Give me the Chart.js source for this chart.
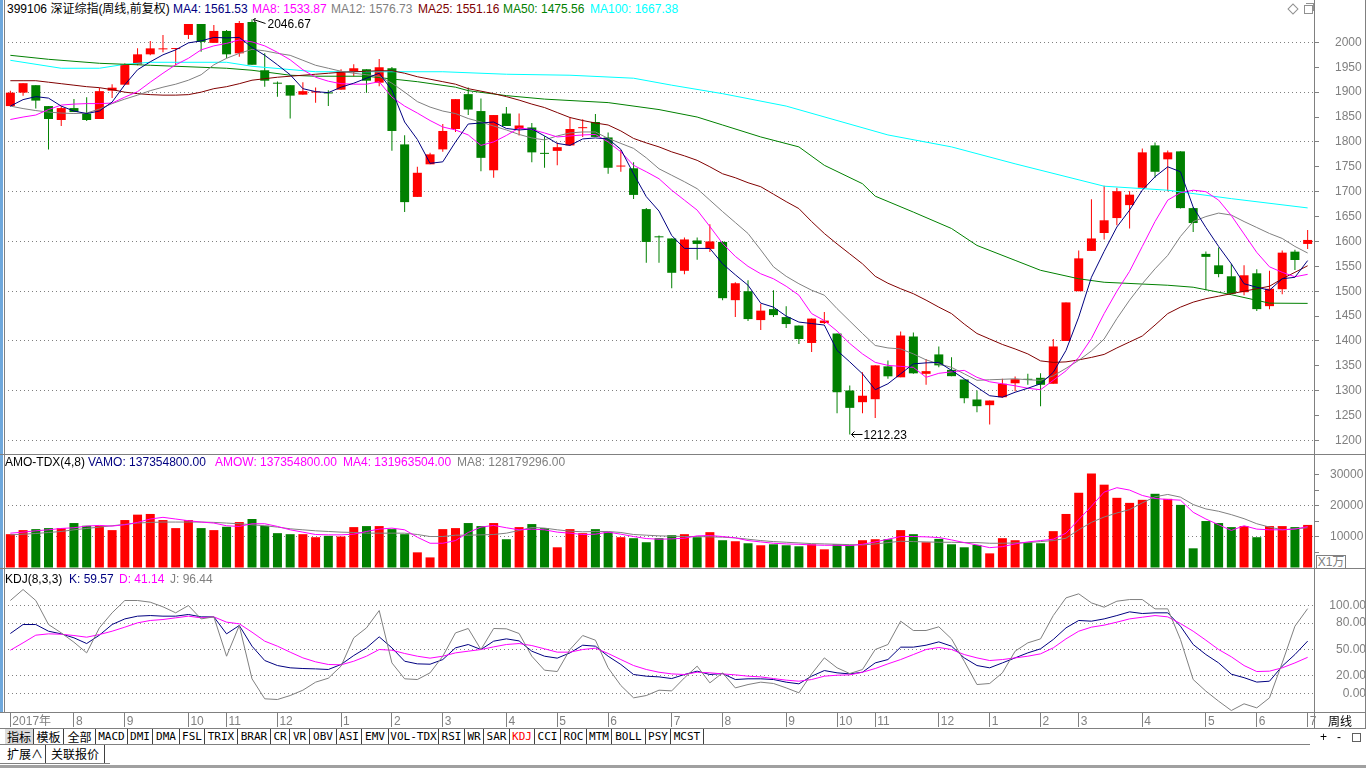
<!DOCTYPE html>
<html>
<head>
<meta charset="utf-8">
<script src="https://cdn.jsdelivr.net/npm/chart.js@4.4.1/dist/chart.umd.min.js"></script>
<style>
  html, body { margin: 0; padding: 0; background: #fff; }
  body { width: 1366px; height: 768px; position: relative; overflow: hidden;
         font-family: "Liberation Sans", "Noto Sans CJK SC", sans-serif; font-size: 12px; }
  canvas { position: absolute; }
  .t { position: absolute; white-space: nowrap; line-height: 14px; font-size: 12px; }
  .hl { position: absolute; left: 0; width: 1366px; height: 1px; background: #808080; }
  .vl { position: absolute; width: 1px; background: #808080; }
  .btn { position: absolute; top: 729px; height: 15px; line-height: 15px; text-align: center;
         border-right: 1px solid #404040; box-sizing: border-box; color: #000;
         font-family: "DejaVu Sans Mono", "Noto Sans CJK SC", monospace; font-size: 11px; }
  .btn.cn { font-family: "Noto Sans CJK SC", sans-serif; font-size: 12px; }
  .row2 { position: absolute; top: 745px; height: 18px; line-height: 18px; text-align: center;
          border-right: 1px solid #404040; box-sizing: border-box;
          font-family: "Noto Sans CJK SC", sans-serif; font-size: 12px; }
</style>
</head>
<body>

<!-- panel chrome -->
<div style="position:absolute;left:0;top:0;width:3px;height:712px;background:#6fa8dc"></div>
<div class="vl" style="left:4px;top:0;height:712px"></div>
<div class="vl" style="left:1314px;top:0;height:728px"></div>
<div class="vl" style="left:1365px;top:0;height:728px"></div>
<div class="hl" style="top:454px"></div>
<div class="hl" style="top:568px"></div>
<div class="hl" style="top:712px"></div>
<div class="hl" style="top:728px"></div>
<div class="hl" style="top:744px;width:1310px"></div>
<div class="hl" style="top:763px;width:110px"></div>
<div style="position:absolute;left:0;top:765px;width:1366px;height:3px;background:#a0a0a0"></div>

<canvas id="price" width="1362" height="435" style="left:4px;top:18px;width:1362px;height:435px"></canvas>
<canvas id="vol" width="1362" height="113" style="left:4px;top:455px;width:1362px;height:113px"></canvas>
<canvas id="kdj" width="1362" height="159" style="left:4px;top:569px;width:1362px;height:159px"></canvas>

<!-- headers -->
<span class="t" style="left:7px;top:2px;color:#000">399106 深证综指(周线,前复权)</span>
<span class="t" style="left:173px;top:2px;color:#000080">MA4: 1561.53</span>
<span class="t" style="left:252px;top:2px;color:#ff00ff">MA8: 1533.87</span>
<span class="t" style="left:331px;top:2px;color:#808080">MA12: 1576.73</span>
<span class="t" style="left:418px;top:2px;color:#800000">MA25: 1551.16</span>
<span class="t" style="left:503px;top:2px;color:#008000">MA50: 1475.56</span>
<span class="t" style="left:590px;top:2px;color:#00ffff">MA100: 1667.38</span>
<div style="position:absolute;left:1289px;top:5px;width:6px;height:6px;border:1px solid #909090;transform:rotate(45deg)"></div>
<div style="position:absolute;left:1304px;top:5px;width:7px;height:7px;border:1px solid #909090"></div>
<div style="position:absolute;left:1306px;top:3px;width:7px;height:7px;border-top:1px solid #909090;border-right:1px solid #909090"></div>

<span class="t" style="left:5px;top:455px;color:#000">AMO-TDX(4,8)</span>
<span class="t" style="left:88px;top:455px;color:#000080">VAMO: 137354800.00</span>
<span class="t" style="left:215px;top:455px;color:#ff00ff">AMOW: 137354800.00</span>
<span class="t" style="left:343px;top:455px;color:#ff00ff">MA4: 131963504.00</span>
<span class="t" style="left:457px;top:455px;color:#808080">MA8: 128179296.00</span>
<div style="position:absolute;left:1316px;top:555px;width:28px;height:12px;border:1px solid #808080;background:#fff;color:#808080;font-size:12px;line-height:12px;text-align:center">X1万</div>

<span class="t" style="left:5px;top:572px;color:#000">KDJ(8,3,3)</span>
<span class="t" style="left:69px;top:572px;color:#000080">K: 59.57</span>
<span class="t" style="left:119px;top:572px;color:#ff00ff">D: 41.14</span>
<span class="t" style="left:170px;top:572px;color:#808080">J: 96.44</span>

<div style="position:absolute;left:1315px;top:713px;width:50px;height:15px;line-height:15px;text-align:center;font-family:'Noto Sans CJK SC',sans-serif;font-size:12px;color:#000">周线</div>

<div id="tabs"></div>
<div class="row2" style="left:5px;width:41px">扩展∧</div>
<div class="row2" style="left:46px;width:59px">关联报价</div>
<span class="t" style="left:1320px;top:730px;color:#000">+</span>
<span class="t" style="left:1337px;top:730px;color:#000">-</span>
<div style="position:absolute;left:1352px;top:733px;width:7px;height:7px;border:1px solid #606060"></div>

<script>
// ---- weekly candles (Jul 2017 - Jul 2019) ----
const opens = [1872,1899,1914,1872,1844,1868,1857,1846,1903,1915,
  1956,1976,1986,1986.6,2015,2037,1999,2023,1978,2041,
  1944,1917.5,1914,1895,1899.4,1899.4,1905,1942,1946,1919,
  1948,1795,1689.5,1755,1785,1826,1896,1862,1743,1857,
  1826,1829,1777.3,1782,1793,1827.6,1840,1809,1750.5,1747,
  1665,1609.6,1606,1541,1602,1585,1599,1482,1500,1442,
  1464,1448,1431,1396,1436,1415,1300.5,1277,1283,1349,
  1327,1409,1334,1373,1342,1322.6,1282.4,1271,1287,1315,
  1324,1326,1314,1400,1500,1581,1617,1647,1673,1708,
  1793,1765,1781,1667,1575,1552,1530,1498,1536,1470,
  1504,1579.5,1595];
const highs = [1903,1918,1914,1872,1872,1886,1890,1909,1916,1958,
  1988,2003,2015,1988,2037,2037,2035,2025,2043,2046.67,
  1978,1921.5,1914,1920,1909.5,1904,1946,1956,1946,1966.5,
  1950.4,1813.5,1750,1778,1836,1886,1909.5,1887,1854,1870,
  1857,1838,1811.5,1799,1849,1845.7,1856,1819,1784,1759,
  1667,1611.7,1606,1608,1608,1634.5,1601,1518,1522,1475,
  1502,1470,1431,1445,1458,1415,1310.5,1337,1351,1361,
  1419,1417,1364,1389,1367.5,1322.6,1300.5,1280.3,1324,1328.6,
  1334,1335,1404,1477.5,1582,1685,1712,1708,1701,1787,
  1799,1783,1781,1669,1580,1588,1555,1552,1544,1541,
  1582,1583.5,1623];
const lows = [1871,1893,1867,1785,1832,1860,1842,1846,1888,1915,
  1954,1974,1980,1954,2007,1981,1999,1968,1971,1955,
  1911,1891,1847,1895,1878.6,1872,1905,1932,1899,1912,
  1782,1659,1689.5,1755,1780,1820,1854,1741,1728,1832,
  1813,1759,1748,1753,1793,1810,1810,1736,1740,1685.5,
  1557,1557,1506,1534,1563,1579,1482,1448,1440,1422,
  1448,1426,1394,1378,1434,1255,1212.23,1255,1245,1324,
  1327,1334,1312,1347,1329,1275,1257,1232,1285.7,1299,
  1312,1269,1314,1400,1500,1581,1604,1632.5,1626,1708,
  1728,1701,1666,1619,1502,1528,1495,1492,1460,1464,
  1494,1542.6,1585];
const closes = [1899,1918,1883,1846,1868,1860,1844,1902,1909,1956,
  1976,1988,1988,1988,2037,2001,2023,1976,2039,1955,
  1923,1917,1893,1902,1901.4,1897.4,1942,1948,1923,1950,
  1822,1679,1738,1775,1822,1886,1865,1768,1854,1832,
  1833,1779,1776,1789.4,1826,1829.6,1810,1748,1752.5,1693.5,
  1599,1608.3,1537,1604,1595,1600,1486,1516,1444,1461,
  1452,1434,1404,1445,1441,1297,1265.6,1290,1351,1329,
  1411,1335,1339.4,1351,1329.3,1285,1269,1280.3,1314,1323.3,
  1322,1312,1389,1477.5,1566,1606,1642.5,1701,1694,1779,
  1740,1779,1667,1637,1569,1534.5,1495,1532,1464,1505,
  1577.5,1562.7,1603];

// ---- price moving averages ----
const ma4 = [1872,1885,1891,1888,1872,1862,1857,1862,1880,1915,
  1945,1961,1975,1985,1999,2003,2010,2009,2010,1990,
  1974,1955,1935,1907,1901,1899,1910,1918,1928,1938,
  1904,1840,1805,1757,1760,1800,1836,1838,1840,1827,
  1824,1826,1812,1797,1793,1806,1808,1806,1785,1736,
  1690,1661,1612,1586,1586,1586,1555,1533,1512,1476,
  1468,1450,1438,1435,1432,1381,1358,1334,1302,1314,
  1334,1354,1356,1357,1341,1324,1307,1290,1287,1297,
  1305,1314,1337,1381,1448,1528,1580,1629,1663,1703,
  1730,1750,1740,1669,1628,1590,1555,1515,1508,1502,
  1525,1528,1561.53];
const ma8 = [1845,1850,1854,1865,1874,1876,1877,1877,1878,1890,
  1901,1920,1938,1955,1968,1985,1993,1998,2005,2001,
  1993,1980,1965,1945,1930,1922,1917,1916,1916,1921,
  1890,1872,1858,1843,1830,1824,1814,1793,1800,1813,
  1828,1825,1818,1810,1812,1814,1815,1800,1780,1753,
  1740,1726,1703,1683,1663,1630,1596,1570,1550,1535,
  1525,1510,1492,1455,1441,1420,1395,1374,1357,1351,
  1349,1347,1327,1335,1338,1341,1327,1318,1314,1310,
  1305,1302,1321,1340,1367,1405,1455,1500,1540,1590,
  1640,1683,1698,1703,1700,1683,1652,1615,1578,1549,
  1538,1529,1533.87];
const ma12 = [1872,1867,1863,1860,1858,1857,1858,1866,1877,1886,
  1894,1903,1910,1916,1924,1935,1955,1968,1978,1986,
  1983,1978,1974,1964,1954,1948,1942,1938,1935,1932,
  1918,1900,1881,1870,1862,1857,1847,1840,1832,1824,
  1815,1808,1804,1812,1818,1820,1820,1807,1797,1787,
  1768,1746,1733,1720,1706,1683,1660,1638,1616,1583,
  1549,1530,1515,1502,1492,1465,1440,1415,1391,1386,
  1384,1374,1362,1354,1347,1334,1321,1322,1323,1324,
  1322,1321,1330,1345,1361,1380,1404,1445,1482,1515,
  1545,1572,1610,1640,1650,1657,1653,1640,1628,1616,
  1606,1590,1576.73];
const ma25 = [1923,1923,1923,1920,1917,1914,1911,1909,1905,1900,
  1897,1895,1894,1894,1895,1900,1907,1911,1917,1924,
  1927,1930,1932,1934,1936,1938,1940,1941,1942,1943,
  1943,1938,1931,1926,1921,1916,1907,1902,1897,1891,
  1884,1876,1869,1859,1849,1843,1838,1834,1822,1807,
  1798,1790,1780,1772,1763,1750,1736,1728,1718,1710,
  1695,1680,1666,1640,1616,1595,1575,1555,1530,1516,
  1505,1495,1482,1468,1455,1434,1415,1404,1393,1384,
  1374,1360,1357,1358,1362,1367,1373,1386,1398,1410,
  1432,1455,1468,1478,1485,1490,1495,1500,1505,1510,
  1525,1538,1551.16];
// slow averages: [week index, value] read at spots along the line
const ma50Pts = [[0,1974],[3,1966],[7,1958],[11,1954],[17,1948],[19,1944],[22,1934],[24,1932],
  [28,1932],[32,1921],[35,1910],[36,1903],[39,1893],[42,1886],[47,1879],[51,1865],[54,1850],
  [56,1834],[59,1810],[62,1790],[64,1753],[67,1716],[68,1691],[71,1659],[74,1626],[76,1592],
  [79,1562],[81,1542],[84,1525],[86,1518],[91,1512],[93,1508],[96,1493],[99,1476],[102,1475.56]];
const ma100Pts = [[0,1964],[4,1948],[7,1948],[9,1956],[11,1960],[17,1960],[19,1952],[24,1941],
  [34,1941],[39,1936],[44,1934],[49,1928],[52,1914],[56,1897],[61,1872],[69,1814],[74,1790],
  [79,1756],[86,1711],[91,1703],[96,1686],[102,1667.38]];

// ---- turnover (x1万) ----
const vols = [10750,12060,12380,12710,12710,14340,13470,13470,12060,15310,
  17050,17270,15310,12710,15310,12710,12060,13140,14660,15640,
  13470,11080,10750,10750,9770,10210,9990,13030,13360,13360,
  12380,10750,4890,3260,12380,12710,14340,13360,14340,9120,
  13030,14010,12710,6520,12380,11080,12380,11400,9770,9450,
  8150,9450,10430,10750,9770,11400,8800,8470,7820,7170,
  7490,7170,6840,7490,5860,7490,7170,8800,9120,9120,
  12060,10750,8150,9230,7490,6520,7280,4560,9450,8800,
  8150,7820,11730,17270,24110,30300,26720,22480,20850,21830,
  23780,22150,20200,6190,14990,14340,13030,13360,9770,13360,
  13360,13030,13735];
const volMa4 = [11077,11403,11837,12163,12598,12815,13358,13575,13358,13792,
  14552,15638,16181,15638,15095,14661,14335,13466,13249,14118,
  14118,13249,12163,11403,10643,10534,10534,10751,11620,12380,
  12706,12163,9774,7819,7819,8688,11294,13032,13575,12815,
  12163,12380,12163,11403,11077,10643,10751,11403,10751,9991,
  9340,9122,9231,9448,10208,10317,9991,9557,8688,8254,
  7819,7602,7493,7276,7168,7168,7059,7493,8254,9122,
  9991,9991,9883,9665,8905,8036,7276,6407,6733,7602,
  8254,8688,9122,11077,15421,19765,24326,25738,24978,23240,
  22263,21937,21720,17810,15638,13792,11946,13466,12380,12163,
  12163,12380,13196];
const volMa8 = [10534,10751,10969,11294,11620,12163,12598,13032,13466,13901,
  14335,14552,14661,14661,14661,14661,14552,14335,14118,13792,
  13466,13032,12489,12163,11837,11620,11403,11294,11077,11077,
  11077,11077,10643,9991,9991,10426,10426,10534,10643,11077,
  11946,12923,12706,12163,11729,11511,11620,11620,11294,10643,
  10426,10208,10100,9991,9991,9883,9774,9557,9122,8688,
  8362,8145,7928,7711,7602,7493,7385,7276,7602,8036,
  8471,8362,8254,8145,8145,8036,8036,7819,7819,7928,
  8036,8362,8688,9448,12163,14552,16290,17593,18679,20851,
  22806,23566,22697,20308,18896,18136,17050,15747,14118,13032,
  12163,12489,12818];

// ---- KDJ(8,3,3) ----
const kdjK = [68.2,78.4,78.4,70.8,67.8,63.3,56.8,66.3,78.4,84.8,
  87.9,88.6,87.9,87.9,89.8,87.1,87.1,67.8,77.3,53.8,
  37.5,31.8,29.2,28.4,28,27.3,33,43.2,51.9,64.4,
  51.9,36.7,33.7,33.3,38.6,51.9,55.7,50,59.5,62.1,
  59.8,48.1,42.4,40.2,46.2,54.9,53.8,42.4,33,21.6,
  19.7,18.9,17,21.6,25.4,21.6,22.7,15.9,16.7,16.7,
  15.9,12.9,11,19.7,26.1,23.5,22.3,24.2,34.8,38.6,
  52.7,52.7,54.9,58.7,53.8,40.5,31.8,29.2,34.8,40.5,
  46.2,50.8,61.4,74.6,83,82.2,84.8,88.6,92.8,90.9,
  91.7,91.7,76.5,55.7,44.3,34.8,22,18,13,14,
  31.1,44.3,59.57];
const kdjD = [49.2,57.6,66.3,67.8,67.4,65.9,64,67,70.8,75.4,
  80.3,83,84.1,86,87.9,86,87.1,81.1,79.2,69.7,
  59.5,53.8,47,40.5,36,33,32.6,36.7,42.4,50,
  49.2,45.5,42.4,40.2,42.4,46.2,48.1,50,53,55.7,
  56.8,54.5,50.8,47,47,50,51.5,45.5,38.6,31.8,
  27.3,24.2,22.3,21.6,24.2,23.5,22.3,21.2,19.7,18.9,
  17,15.2,14,15.9,19.7,20.8,21.2,24.2,28.4,33.7,
  38.6,44.3,50,52.3,50,44.3,40.5,37.5,38.6,40.5,
  42.4,45.1,51.9,62.1,70.8,75.4,77.7,81.1,84.8,86.7,
  88.6,87.1,79.5,70.8,60.6,50,41.7,31.8,25,25.4,
  29.2,34.8,41.14];
const kdjJ = [105.7,118.2,105.7,78.4,68.9,58.3,46.2,74.6,91.7,105.7,
  105.7,103.8,98.5,91.7,100,84.8,87.1,42.4,77.3,16.7,
  -6,-6.8,-2.3,3.8,12.9,17.4,31.1,63.3,74.6,94.3,
  34.8,16.7,15.9,23.5,42.4,68.9,73.9,50,73.9,73.5,
  68.2,42.4,26.5,25,50,65.9,60.6,29.2,9.1,-4.9,
  -2.3,3.8,3,17.8,31.1,12.1,23.5,6.4,10.2,12.9,
  11.4,6.4,0.8,22.3,40.5,29.2,22.7,27.3,50,55.7,
  82.2,71.6,71.6,75.8,62.1,36.7,10.2,11.4,23.5,48.1,
  57.6,62.1,88.6,108.7,113.3,103,98.1,104.9,106.8,106.8,
  96.2,96.2,61.4,15.9,2.7,-8.7,-19.3,-11.7,-16.3,-4.9,
  34.8,76.5,96.44];

// month labels on the time axis: [week index, text]
const monthMarks = [[0,'2017年'],[5,'8'],[9,'9'],[14,'10'],[17,'11'],[21,'12'],[26,'1'],[30,'2'],
  [34,'3'],[39,'4'],[43,'5'],[47,'6'],[52,'7'],[56,'8'],[61,'9'],[65,'10'],[68,'11'],[73,'12'],
  [77,'1'],[81,'2'],[84,'3'],[89,'4'],[94,'5'],[98,'6'],[102,'7']];

const priceTicks = [1200,1250,1300,1350,1400,1450,1500,1550,1600,1650,1700,1750,1800,1850,1900,1950,2000];
const priceGrid = [1200,1300,1400,1500,1600,1700,1800,1900,2000];
const volTicks = [5000,10000,15000,20000,25000,30000];
const volGrid = [10000,20000];
const kdjTicks = [0,20,50,80,100];

// bottom tab buttons: [text, left, right]
const tabs = [['指标',5,34],['模板',34,64],['全部',64,96],['MACD',96,128],['DMI',128,153],['DMA',153,180],
  ['FSL',180,205],['TRIX',205,238],['BRAR',238,271],['CR',271,290],['VR',290,310],['OBV',310,337],
  ['ASI',337,362],['EMV',362,389],['VOL-TDX',389,439],['RSI',439,465],['WR',465,484],['SAR',484,510],
  ['KDJ',510,535],['CCI',535,561],['ROC',561,587],['MTM',587,612],['BOLL',612,646],['PSY',646,671],
  ['MCST',671,704]];

const RED = '#ff0000', GREEN = '#008000', GRAY = '#808080', NONE = 'rgba(0,0,0,0)';
const FONT = '"Liberation Sans", "Noto Sans CJK SC", sans-serif';
Chart.defaults.font.family = FONT;
Chart.defaults.font.size = 12;

const N = opens.length;
const labels = opens.map((_, i) => 'w' + i);
const monthText = new Array(N).fill('');
monthMarks.forEach(([i, t]) => { monthText[i] = t; });
const candleColor = closes.map((c, i) => c >= opens[i] ? RED : GREEN);

function fromPairs(pairs) {
    const arr = new Array(N).fill(null);
    pairs.forEach(([i, v]) => { arr[i] = v; });
    return arr;
}

function line(data, color) {
    return { type: 'line', data, borderColor: color, borderWidth: 1, pointRadius: 0,
             tension: 0, spanGaps: true, fill: false, order: 0 };
}

function yAxis(cfg) {
    return {
        position: 'right',
        min: cfg.min, max: cfg.max,
        afterBuildTicks: s => { s.ticks = cfg.ticks.map(v => ({ value: v })); },
        afterFit: s => { s.width = 52; s.paddingTop = 0; s.paddingBottom = 0; },
        grid: {
            color: c => cfg.grid.includes(c.tick.value) ? GRAY : NONE,
            drawTicks: cfg.tickLen > 0, tickLength: cfg.tickLen, tickColor: GRAY
        },
        border: { display: false, dash: [1, 3] },
        ticks: { color: GRAY, padding: cfg.padding, crossAlign: cfg.align,
                 font: { size: 12 }, callback: cfg.label }
    };
}

const baseOptions = {
    responsive: false, animation: false, events: [],
    layout: { padding: 0 },
    plugins: { legend: { display: false }, tooltip: { enabled: false } }
};

// high / low markers on the price panel
const markPlugin = {
    id: 'marks',
    afterDatasetsDraw(chart) {
        const { ctx, scales: { x, y } } = chart;
        ctx.save();
        ctx.font = '12px ' + FONT;
        ctx.fillStyle = '#000';
        ctx.strokeStyle = '#000';
        ctx.lineWidth = 1;
        ctx.textBaseline = 'middle';

        const hiIdx = highs.indexOf(Math.max(...highs));
        const hx = Math.round(x.getPixelForValue(hiIdx)) + 0.5;
        const hy = Math.round(y.getPixelForValue(highs[hiIdx])) + 0.5;
        ctx.beginPath();
        ctx.moveTo(hx + 1, hy); ctx.lineTo(hx + 13, hy + 4);
        ctx.moveTo(hx + 1, hy); ctx.lineTo(hx + 4, hy - 2);
        ctx.moveTo(hx + 1, hy); ctx.lineTo(hx + 3, hy + 3);
        ctx.stroke();
        ctx.fillText(highs[hiIdx].toFixed(2), hx + 15, hy + 5);

        const loIdx = lows.indexOf(Math.min(...lows));
        const lx = Math.round(x.getPixelForValue(loIdx)) + 0.5;
        const ly = Math.round(y.getPixelForValue(lows[loIdx])) + 0.5;
        ctx.beginPath();
        ctx.moveTo(lx + 1, ly); ctx.lineTo(lx + 12, ly);
        ctx.moveTo(lx + 1, ly); ctx.lineTo(lx + 4, ly - 3);
        ctx.moveTo(lx + 1, ly); ctx.lineTo(lx + 4, ly + 3);
        ctx.stroke();
        ctx.fillText(lows[loIdx].toFixed(2), lx + 13, ly + 1);
        ctx.restore();
    }
};

// --- price panel ---
new Chart(document.getElementById('price'), {
    type: 'bar',
    data: {
        labels,
        datasets: [
            line(ma4, '#000080'),
            line(ma8, '#ff00ff'),
            line(ma12, GRAY),
            line(ma25, '#800000'),
            line(fromPairs(ma50Pts), '#008000'),
            line(fromPairs(ma100Pts), '#00ffff'),
            { data: lows.map((l, i) => [l, highs[i]]), backgroundColor: candleColor,
              barThickness: 1, grouped: false, inflateAmount: 0, order: 2 },
            { data: opens.map((o, i) => [o, closes[i]]), backgroundColor: candleColor,
              barThickness: 9, grouped: false, minBarLength: 1, inflateAmount: 0, order: 1 }
        ]
    },
    options: {
        ...baseOptions,
        scales: {
            x: { display: false, offset: true },
            y: yAxis({ min: 1174.9, max: 2049, ticks: priceTicks, grid: priceGrid, tickLen: 5,
                       padding: 16, align: 'near', label: v => String(v) })
        }
    },
    plugins: [markPlugin]
});

// --- turnover panel ---
new Chart(document.getElementById('vol'), {
    type: 'bar',
    data: {
        labels,
        datasets: [
            line(volMa4, '#ff00ff'),
            line(volMa8, GRAY),
            { data: vols, backgroundColor: candleColor, barThickness: 9, inflateAmount: 0, order: 1 }
        ]
    },
    options: {
        ...baseOptions,
        scales: {
            x: { display: false, offset: true },
            y: yAxis({ min: -160, max: 36290, ticks: volTicks, grid: volGrid, tickLen: 5,
                       padding: 11, align: 'near', label: v => v % 10000 === 0 ? String(v) : '' })
        }
    }
});

// --- KDJ panel with time axis ---
new Chart(document.getElementById('kdj'), {
    type: 'line',
    data: {
        labels,
        datasets: [
            line(kdjJ, GRAY),
            line(kdjD, '#ff00ff'),
            line(kdjK, '#000080')
        ]
    },
    options: {
        ...baseOptions,
        scales: {
            x: {
                display: true, offset: true, position: 'bottom',
                afterFit: s => { s.height = 16; s.paddingLeft = 0; s.paddingRight = 0; },
                grid: { drawOnChartArea: false, drawTicks: true, tickLength: 15, offset: false,
                        tickColor: c => monthText[c.index] ? GRAY : NONE },
                border: { display: false },
                ticks: { autoSkip: false, maxRotation: 0, minRotation: 0, align: 'start',
                         labelOffset: 2, padding: -13, color: GRAY, font: { size: 12 },
                         callback: (v, i) => monthText[i] }
            },
            y: yAxis({ min: -21, max: 141.5, ticks: kdjTicks, grid: kdjTicks, tickLen: 0,
                       padding: 11, align: 'far', label: v => v.toFixed(2) })
        }
    }
});

// bottom indicator tabs
const tabBox = document.getElementById('tabs');
tabs.forEach(([text, l, r], i) => {
    const d = document.createElement('div');
    d.className = 'btn' + (/^[A-Z-]+$/.test(text) ? '' : ' cn');
    d.style.left = l + 'px';
    d.style.width = (r - l) + 'px';
    if (i === 0) d.style.background = '#dcdcdc';
    if (text === 'KDJ') d.style.color = '#ff0000';
    d.textContent = text;
    tabBox.appendChild(d);
});
</script>
</body>
</html>
